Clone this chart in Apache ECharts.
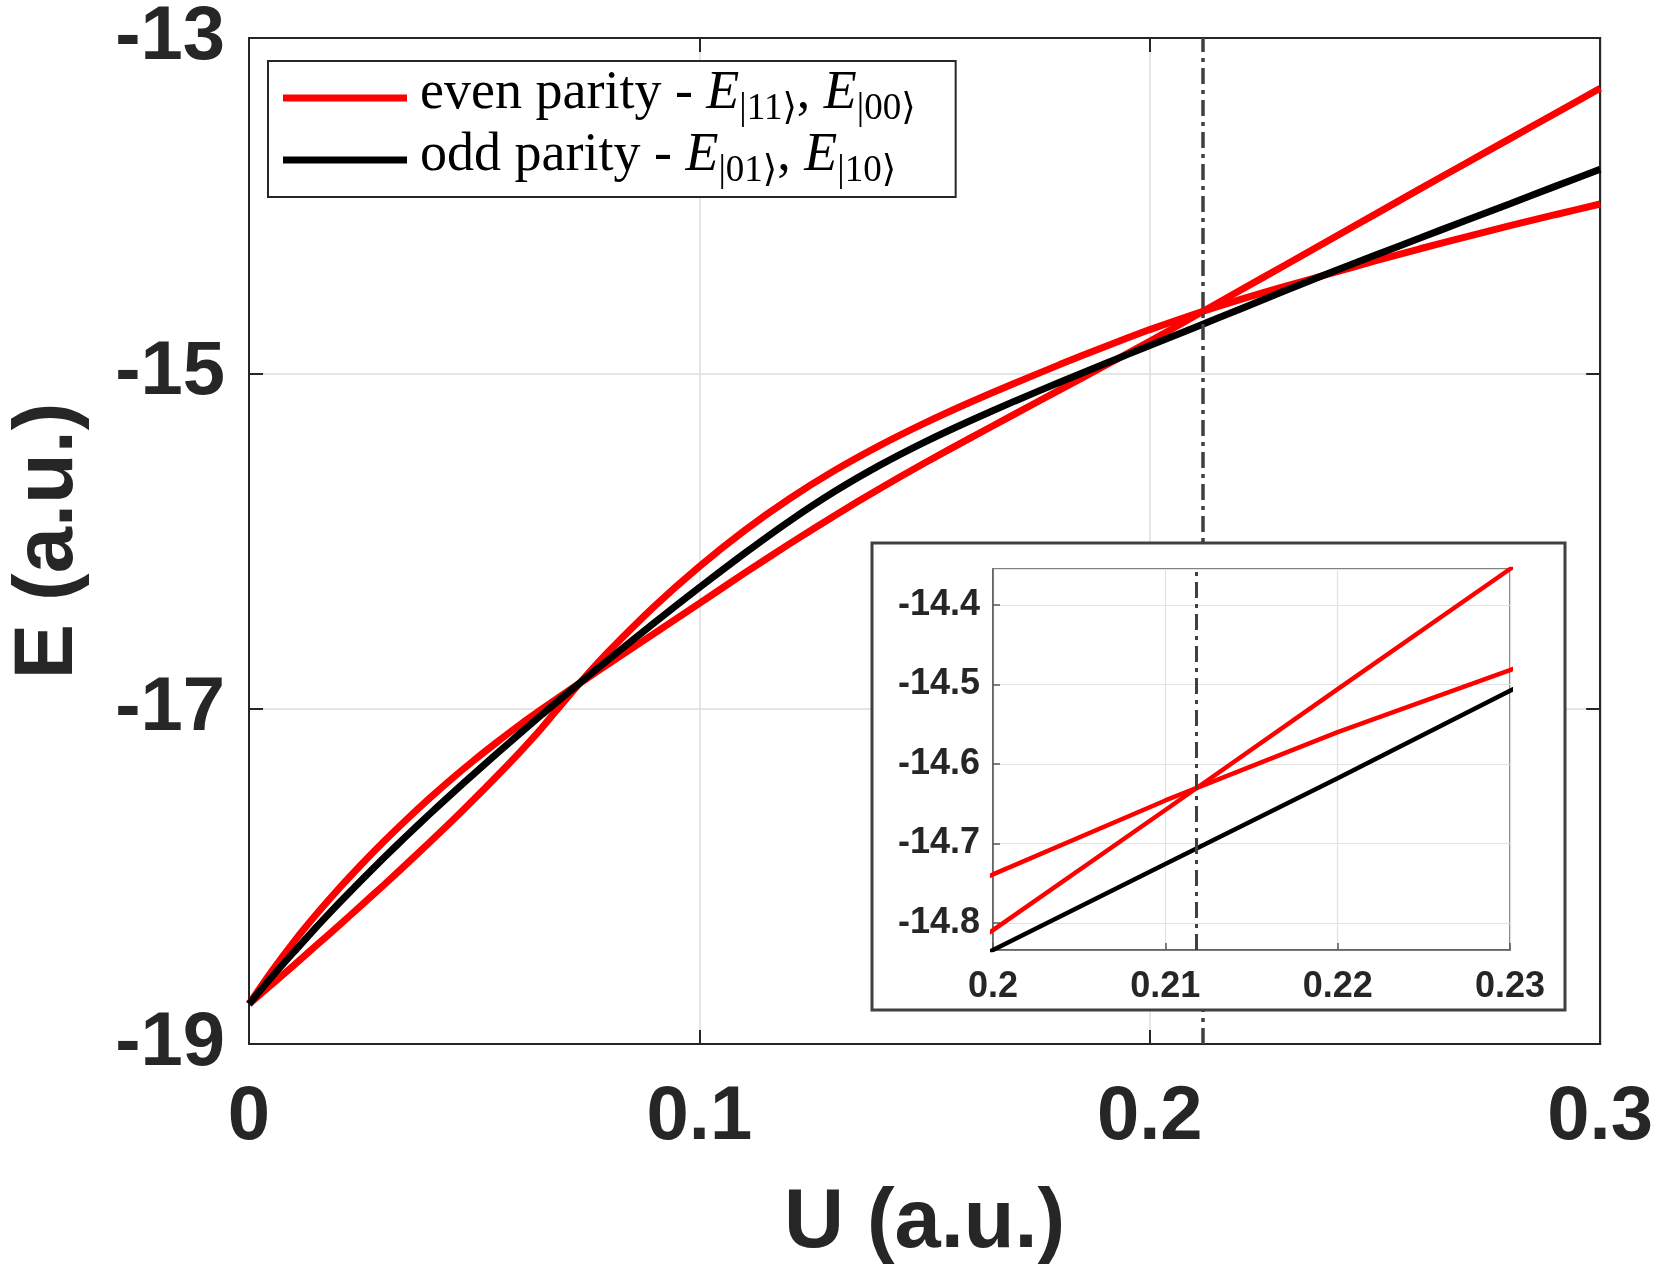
<!DOCTYPE html>
<html>
<head>
<meta charset="utf-8">
<script src="https://cdn.jsdelivr.net/npm/echarts@6/dist/echarts.min.js"></script>
<style>
html, body { margin: 0; padding: 0; background: #ffffff; }
#c { width: 1656px; height: 1275px; }
</style>
</head>
<body>
<div id="c"></div>
<script>
// ---------------- data ----------------
const uValues = [0, 0.005, 0.01, 0.015, 0.02, 0.025, 0.03, 0.035, 0.04, 0.045, 0.05, 0.055, 0.06, 0.065, 0.07, 0.075, 0.08,
  0.09, 0.1, 0.11, 0.12, 0.13, 0.14, 0.15, 0.16, 0.17, 0.18, 0.19, 0.2, 0.21, 0.22, 0.23, 0.24, 0.25, 0.26, 0.27, 0.28, 0.29, 0.3];

// even parity, branch 1 (upper at small U, steep line at large U)
const evenA = [-18.762, -18.568, -18.389, -18.225, -18.072, -17.928, -17.791, -17.661, -17.537, -17.419, -17.307, -17.201, -17.099, -17.003, -16.910, -16.820, -16.730,
  -16.551, -16.372, -16.192, -16.017, -15.849, -15.688, -15.535, -15.388, -15.243, -15.099, -14.955, -14.809, -14.658, -14.506, -14.355, -14.203, -14.052, -13.900, -13.750, -13.600, -13.450, -13.300];

// even parity, branch 2 (lower at small U, shallow at large U)
const evenB = [-18.762, -18.646, -18.529, -18.411, -18.292, -18.172, -18.050, -17.926, -17.800, -17.671, -17.539, -17.403, -17.263, -17.115, -16.955, -16.800, -16.655,
  -16.390, -16.152, -15.938, -15.748, -15.580, -15.431, -15.297, -15.174, -15.059, -14.948, -14.841, -14.739, -14.646, -14.560, -14.482, -14.405, -14.330, -14.257, -14.187, -14.119, -14.054, -13.990];

// odd parity (degenerate pair)
const oddE = [-18.762, -18.602, -18.450, -18.302, -18.159, -18.022, -17.888, -17.758, -17.631, -17.508, -17.387, -17.268, -17.151, -17.036, -16.923, -16.812, -16.703,
  -16.487, -16.277, -16.074, -15.881, -15.705, -15.549, -15.410, -15.284, -15.166, -15.053, -14.943, -14.834, -14.726, -14.618, -14.508, -14.400, -14.296, -14.193, -14.090, -13.988, -13.885, -13.783];

const crossU = 0.2118;                 // dash-dot marker position
const mainURange = [0, 0.3];
const mainERange = [-19, -13];
const insetURange = [0.2, 0.23];

const legendRows = {
  even: { words: 'even parity - ', subs: ['|11\u27E9', '|00\u27E9'] },
  odd:  { words: 'odd parity - ',  subs: ['|01\u27E9', '|10\u27E9'] }
};

// ---------------- helpers ----------------
function pairs(arr) { return uValues.map((u, i) => [u, arr[i]]); }
function insetExtent() {
  let lo = Infinity, hi = -Infinity;
  [evenA, evenB, oddE].forEach(arr => arr.forEach((v, i) => {
    const u = uValues[i];
    if (u >= insetURange[0] - 1e-9 && u <= insetURange[1] + 1e-9) { lo = Math.min(lo, v); hi = Math.max(hi, v); }
  }));
  return [lo, hi];
}
const insetE = insetExtent();

// ---------------- layout / style ----------------
const sansFont = "'Liberation Sans', Arial, Helvetica, sans-serif";
const serifFont = "'Liberation Serif', 'Times New Roman', 'DejaVu Serif', serif";
const ink = '#262626';
const RED = '#ff0000';
const BLACK = '#000000';
const G  = { left: 232, top: 27, width: 1373, height: 1017 };
const IG = { left: 993, top: 569, width: 517, height: 381 };
const BOX = { x: 872, y: 543, width: 693, height: 467 };

const chart = echarts.init(document.getElementById('c'), null, { renderer: 'canvas' });

const mainTickLabel = { fontSize: 76, fontWeight: 'bold', color: ink, fontFamily: sansFont };
const insetTickLabel = { fontSize: 36, fontWeight: 'bold', color: ink, fontFamily: sansFont };
const gridLine = { show: true, lineStyle: { color: '#dcdcdc', width: 1.5 } };
const insetGridLine = { show: true, lineStyle: { color: '#e2e2e2', width: 1.2 } };

function mainLine(name, arr, color) {
  return {
    type: 'line', name: name, xAxisIndex: 0, yAxisIndex: 0, data: pairs(arr),
    showSymbol: false, smooth: 0.2, z: 2,
    lineStyle: { color: color, width: 7 }, itemStyle: { color: color },
    emphasis: { disabled: true }
  };
}
function insetLine(name, arr, color) {
  return {
    type: 'line', name: name, xAxisIndex: 1, yAxisIndex: 1, data: pairs(arr),
    showSymbol: false, smooth: false, z: 23, clip: true,
    lineStyle: { color: color, width: 4.5 }, itemStyle: { color: color },
    emphasis: { disabled: true }
  };
}
const dashStyle = { color: '#404040', width: 3.5, type: [16, 6, 4, 6] };

const seriesList = [
  mainLine('even', evenA, RED),
  mainLine('even', evenB, RED),
  mainLine('odd', oddE, BLACK),
  insetLine('even', evenA, RED),
  insetLine('even', evenB, RED),
  insetLine('odd', oddE, BLACK)
];
seriesList[2].markLine = {
  silent: true, symbol: ['none', 'none'], label: { show: false }, z: 5, precision: 6,
  lineStyle: dashStyle, emphasis: { disabled: true },
  data: [{ xAxis: crossU }]
};
seriesList[5].markLine = {
  silent: true, symbol: ['none', 'none'], label: { show: false }, z: 24, precision: 6,
  lineStyle: Object.assign({}, dashStyle, { width: 3 }), emphasis: { disabled: true },
  data: [{ xAxis: crossU }]
};

const mainTextTok = { fontFamily: serifFont, fontSize: 54, lineHeight: 62, color: '#000', padding: [0, 0, 8, 0] };
const option = {
  animation: false,
  backgroundColor: '#ffffff',
  grid: [
    Object.assign({ show: true, borderColor: ink, borderWidth: 2, backgroundColor: 'transparent', containLabel: false }, G),
    Object.assign({ show: true, borderColor: '#5a5a5a', borderWidth: 1.5, backgroundColor: '#ffffff', containLabel: false, z: 21 }, IG)
  ],
  graphic: {
    elements: [{
      type: 'rect', z: 20, silent: true,
      shape: { x: BOX.x, y: BOX.y, width: BOX.width, height: BOX.height },
      style: { fill: '#ffffff', stroke: '#404040', lineWidth: 3 }
    }]
  },
  legend: {
    data: ['even', 'odd'],
    orient: 'vertical', left: 268, top: 61, z: 30,
    backgroundColor: '#ffffff', borderColor: ink, borderWidth: 2,
    padding: [6, 40, 6, 15], itemGap: 0,
    icon: 'rect', itemWidth: 124, itemHeight: 7,
    selectedMode: false,
    formatter: function (name) {
      const r = legendRows[name];
      return '{f|' + r.words + '}{e|E}{s|' + r.subs[0] + '}{t|, }{e|E}{s|' + r.subs[1] + '}';
    },
    textStyle: {
      color: '#000',
      rich: {
        f: Object.assign({}, mainTextTok, { padding: [0, 0, 8, 8] }),
        t: Object.assign({}, mainTextTok),
        e: Object.assign({}, mainTextTok, { fontStyle: 'italic' }),
        s: { fontFamily: serifFont, fontSize: 37, lineHeight: 62, color: '#000', padding: [24, 0, 1, 0] }
      }
    }
  },
  xAxis: [
    {
      gridIndex: 0, type: 'value', min: mainURange[0], max: mainURange[1], interval: 0.1, position: 'bottom',
      axisLine: { show: true, onZero: false, lineStyle: { color: ink, width: 2 } },
      axisTick: { show: true, inside: true, length: 14, lineStyle: { color: ink, width: 2 } },
      axisLabel: Object.assign({ margin: 36 }, mainTickLabel),
      splitLine: gridLine,
      name: 'U (a.u.)', nameLocation: 'middle', nameGap: 139,
      nameTextStyle: { fontSize: 83, fontWeight: 'bold', color: ink, fontFamily: sansFont }
    },
    {
      gridIndex: 1, type: 'value', min: insetURange[0], max: insetURange[1], interval: 0.01, position: 'bottom', z: 22,
      axisLine: { show: true, onZero: false, lineStyle: { color: '#5a5a5a', width: 1.5 } },
      axisTick: { show: true, inside: true, length: 7, lineStyle: { color: '#5a5a5a', width: 1.5 } },
      axisLabel: Object.assign({ margin: 19 }, insetTickLabel),
      splitLine: insetGridLine
    },
    {
      gridIndex: 0, type: 'value', min: mainURange[0], max: mainURange[1], interval: 0.1, position: 'top',
      axisLine: { show: true, onZero: false, lineStyle: { color: ink, width: 2 } },
      axisTick: { show: true, inside: true, length: 14, lineStyle: { color: ink, width: 2 } },
      axisLabel: { show: false }, splitLine: { show: false }
    }
  ],
  yAxis: [
    {
      gridIndex: 0, type: 'value', min: mainERange[0], max: mainERange[1], interval: 2, position: 'left',
      axisLine: { show: true, onZero: false, lineStyle: { color: ink, width: 2 } },
      axisTick: { show: true, inside: true, length: 14, lineStyle: { color: ink, width: 2 } },
      axisLabel: Object.assign({ margin: 24 }, mainTickLabel),
      splitLine: gridLine,
      name: 'E (a.u.)', nameLocation: 'middle', nameGap: 158,
      nameTextStyle: { fontSize: 83, fontWeight: 'bold', color: ink, fontFamily: sansFont }
    },
    {
      gridIndex: 1, type: 'value', min: insetE[0], max: insetE[1], position: 'left', z: 22,
      axisLine: { show: true, onZero: false, lineStyle: { color: '#5a5a5a', width: 1.5 } },
      axisTick: { show: true, inside: true, length: 7, lineStyle: { color: '#5a5a5a', width: 1.5 } },
      axisLabel: Object.assign({ margin: 13, showMinLabel: false, showMaxLabel: false }, insetTickLabel),
      splitLine: insetGridLine
    },
    {
      gridIndex: 0, type: 'value', min: mainERange[0], max: mainERange[1], interval: 2, position: 'right',
      axisLine: { show: true, onZero: false, lineStyle: { color: ink, width: 2 } },
      axisTick: { show: true, inside: true, length: 14, lineStyle: { color: ink, width: 2 } },
      axisLabel: { show: false }, splitLine: { show: false }
    }
  ],
  series: seriesList
};

chart.setOption(option);
</script>
</body>
</html>
